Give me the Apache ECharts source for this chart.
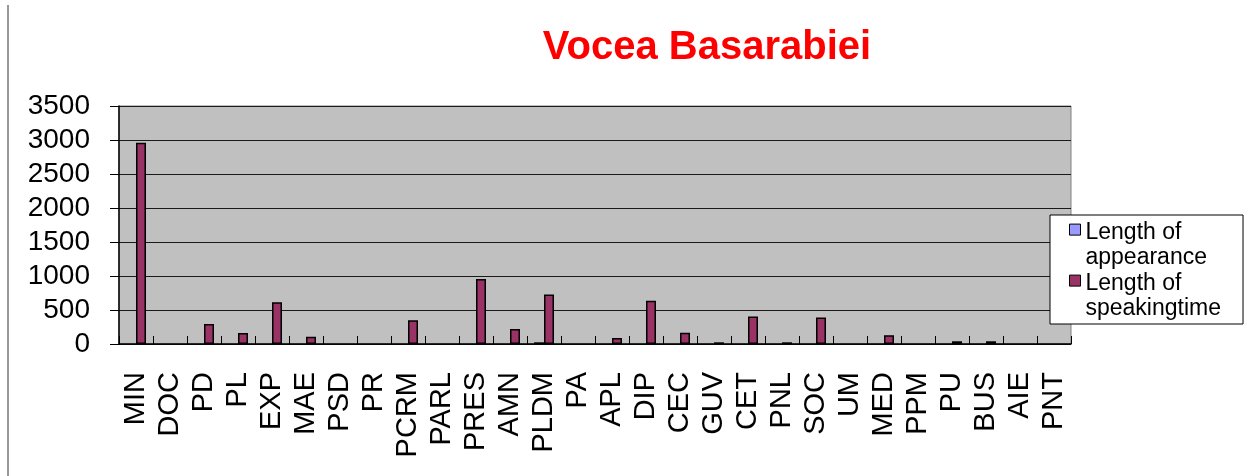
<!DOCTYPE html>
<html>
<head>
<meta charset="utf-8">
<script src="https://cdn.jsdelivr.net/npm/echarts@6/dist/echarts.min.js"></script>
<style>
  html, body { margin: 0; padding: 0; background: #fff; }
  #chart { width: 1250px; height: 476px; }
</style>
</head>
<body>
<div id="chart"></div>
<script>
// categories along the x axis
const categories = ['MIN', 'DOC', 'PD', 'PL', 'EXP', 'MAE', 'PSD', 'PR', 'PCRM', 'PARL', 'PRES', 'AMN', 'PLDM', 'PA',
  'APL', 'DIP', 'CEC', 'GUV', 'CET', 'PNL', 'SOC', 'UM', 'MED', 'PPM', 'PU', 'BUS', 'AIE', 'PNT']

// values (0 = no bar drawn)
const appearance = [0, 0, 0, 0, 0, 0, 0, 0, 0, 0, 0, 0, 25, 0,
  0, 0, 0, 0, 0, 0, 0, 0, 0, 0, 0, 0, 0, 0]
const speaking = [2960, 0, 295, 160, 615, 105, 0, 0, 350, 0, 955, 220, 728, 0,
  88, 635, 165, 25, 405, 25, 388, 0, 130, 0, 40, 40, 0, 0]

const yTicks = [0, 500, 1000, 1500, 2000, 2500, 3000, 3500]

const font = 'Liberation Sans, Arial, sans-serif'
const chart = echarts.init(document.getElementById('chart'))

// legend marker: square at the top, invisible point below so it lines up with the first text line
const legendIcon = 'path://M0 0L10 0L10 10L0 10Z M0 38L0 38'

// empty categories get no bar at all (a 0 would still draw a border line)
const toBars = arr => arr.map(v => (v === 0 ? null : v))

chart.setOption({
  animation: false,
  backgroundColor: '#fff',
  title: {
    text: 'Vocea Basarabiei',
    left: 702,
    textAlign: 'center',
    top: 23,
    textStyle: { color: '#ff0000', fontFamily: font, fontWeight: 'bold', fontSize: 40 }
  },
  legend: {
    orient: 'vertical',
    left: 1050,
    top: 215,
    padding: [5, 22, 3, 19],
    itemGap: 1,
    itemWidth: 11,
    itemHeight: 42,
    backgroundColor: '#fff',
    borderColor: '#000',
    borderWidth: 1,
    icon: legendIcon,
    itemStyle: { borderColor: '#000', borderWidth: 1 },
    formatter: name => name.replace('Length of ', 'Length of\n'),
    textStyle: { color: '#000', fontFamily: font, fontSize: 23, lineHeight: 25 },
    data: ['Length of appearance', 'Length of speakingtime']
  },
  grid: {
    left: 119,
    right: 179,
    top: 106,
    bottom: 132,
    show: true,
    backgroundColor: '#c0c0c0',
    borderColor: '#808080',
    borderWidth: 1
  },
  xAxis: {
    type: 'category',
    data: categories,
    axisLine: { lineStyle: { color: '#000', width: 1.5 } },
    axisTick: { show: true, inside: true, length: 8, lineStyle: { color: '#000' } },
    axisLabel: {
      interval: 0,
      rotate: 90,
      margin: 28,
      color: '#000',
      fontFamily: font,
      fontSize: 29
    },
    splitLine: { show: false }
  },
  yAxis: {
    type: 'value',
    min: yTicks[0],
    max: yTicks[yTicks.length - 1],
    interval: 500,
    axisLine: { show: true, lineStyle: { color: '#000', width: 1.5 } },
    axisTick: { show: true, length: 9, lineStyle: { color: '#000' } },
    axisLabel: { margin: 29, color: '#000', fontFamily: font, fontSize: 28, formatter: v => String(v) },
    splitLine: { lineStyle: { color: '#1a1a1a', width: 1 } }
  },
  graphic: [{
    type: 'line',
    shape: { x1: 8, y1: 5, x2: 8, y2: 476 },
    style: { stroke: '#333', lineWidth: 1 }
  }],
  series: [
    {
      name: 'Length of appearance',
      type: 'bar',
      data: toBars(appearance),
      barWidth: 10,
      barGap: '0%',
      itemStyle: { color: '#9999ff', borderColor: '#000', borderWidth: 1.5 }
    },
    {
      name: 'Length of speakingtime',
      type: 'bar',
      data: toBars(speaking),
      barWidth: 10,
      barGap: '0%',
      itemStyle: { color: '#993366', borderColor: '#000', borderWidth: 1.5 }
    }
  ]
})
</script>
</body>
</html>
